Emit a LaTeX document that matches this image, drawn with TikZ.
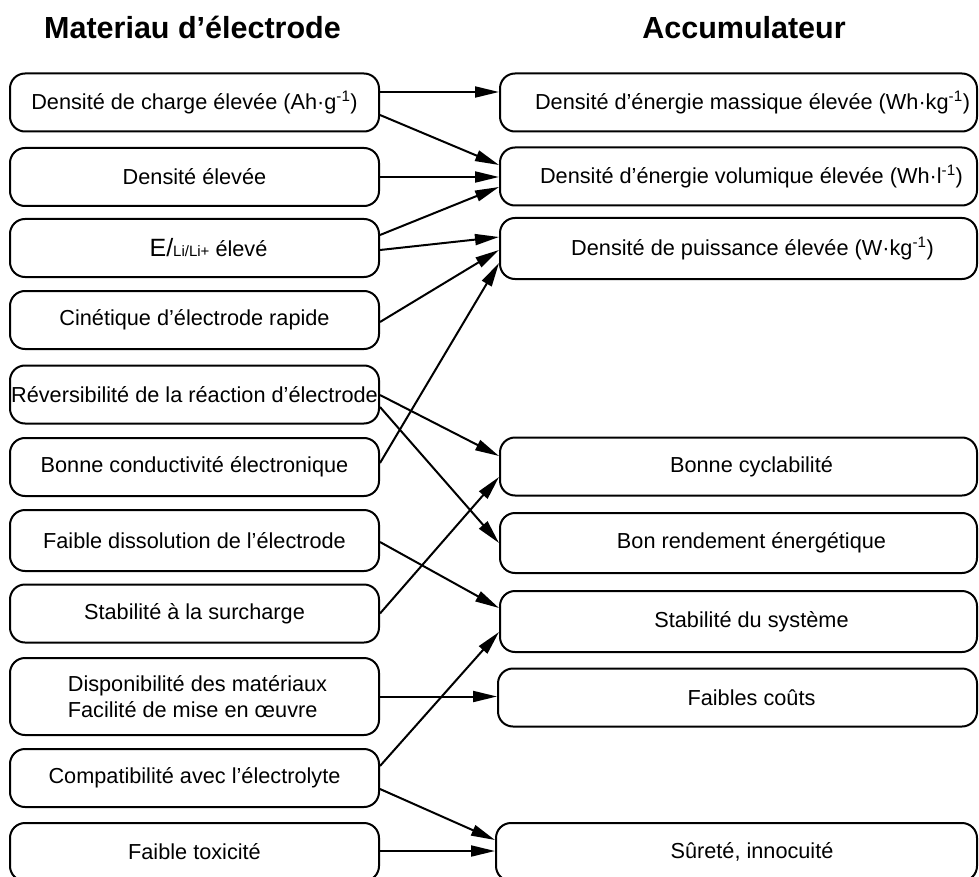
\documentclass[tikz,border=0pt]{standalone}
\usepackage{fontspec}
\setmainfont{Liberation Sans}
\usetikzlibrary{arrows.meta}
\begin{document}
\begin{tikzpicture}[x=1pt,y=-1pt,
  box/.style={draw, line width=2pt, rounded corners=15pt, inner sep=0pt},
  lbox/.style={box, minimum width=369pt, minimum height=58pt},
  rbox/.style={box, minimum width=477pt, minimum height=58pt},
  txt/.style={font=\fontsize{21.7}{26}\selectfont, inner sep=0pt},
  arr/.style={line width=2pt, -{Triangle[length=24pt,width=11pt]}},
  head/.style={font=\fontsize{30.5}{35}\selectfont\bfseries, anchor=base, inner sep=0pt}]
\useasboundingbox (0,0) rectangle (979,877);
\clip (0,0) rectangle (979,877);

% headings
\node[head] (h1) at (192.5,39) {Materiau d’électrode};
\node[head] (h2) at (744,39) {Accumulateur};

% left boxes
\node[lbox] (L1) at (194.5,102.5) {};
\node[lbox] (L2) at (194.5,177) {};
\node[lbox] (L3) at (194.5,248) {};
\node[lbox] (L4) at (194.5,320) {};
\node[lbox] (L5) at (194.5,394.5) {};
\node[lbox] (L6) at (194.5,467) {};
\node[lbox, minimum height=61pt] (L7) at (194.5,540.5) {};
\node[lbox] (L8) at (194.5,613.5) {};
\node[lbox, minimum height=77pt] (L9) at (194.5,696.5) {};
\node[lbox] (L10) at (194.5,778) {};
\node[lbox] (L11) at (194.5,852) {};

\node[txt] (t1) at (L1) {Densité de charge élevée (Ah·g\textsuperscript{-1})};
\node[txt] (t2) at (L2) {Densité élevée};
\node[txt] (t3) at ([xshift=14pt]L3.center) {{\fontsize{25}{30}\selectfont E/}{\fontsize{15}{18}\selectfont Li/Li+} élevé};
\node[txt] (t4) at (L4) {Cinétique d’électrode rapide};
\node[txt] (t5) at (L5) {Réversibilité de la réaction d’électrode};
\node[txt] (t6) at (L6) {Bonne conductivité électronique};
\node[txt] (t7) at (L7) {Faible dissolution de l’électrode};
\node[txt] (t8) at (L8) {Stabilité à la surcharge};
\node[txt, align=left, font=\fontsize{21.7}{26}\selectfont] (t9) at ([xshift=3pt]L9.center) {Disponibilité des matériaux\\Facilité de mise en œuvre};
\node[txt] (t10) at (L10) {Compatibilité avec l’électrolyte};
\node[txt] (t11) at (L11) {Faible toxicité};

% right boxes
\node[rbox] (R1) at (738.5,102.5) {};
\node[rbox] (R2) at (738.5,176.5) {};
\node[rbox, minimum height=61pt] (R3) at (738.5,248.5) {};
\node[rbox] (R4) at (738.5,466.5) {};
\node[rbox, minimum height=60pt] (R5) at (738.5,543) {};
\node[rbox, minimum height=61pt] (R6) at (738.5,621.5) {};
\node[rbox, minimum width=479pt] (R7) at (737.5,697.5) {};
\node[rbox, minimum width=481pt] (R8) at (736.5,852) {};

\node[txt] (u1) at ([xshift=14pt]R1.center) {Densité d’énergie massique élevée (Wh·kg\textsuperscript{-1})};
\node[txt] (u2) at ([xshift=13pt]R2.center) {Densité d’énergie volumique élevée (Wh·l\textsuperscript{-1})};
\node[txt] (u3) at ([xshift=14pt]R3.center) {Densité de puissance élevée (W·kg\textsuperscript{-1})};
\node[txt] (u4) at ([xshift=13pt]R4.center) {Bonne cyclabilité};
\node[txt] (u5) at ([xshift=13pt]R5.center) {Bon rendement énergétique};
\node[txt] (u6) at ([xshift=13pt]R6.center) {Stabilité du système};
\node[txt] (u7) at ([xshift=14pt]R7.center) {Faibles coûts};
\node[txt] (u8) at ([xshift=15.5pt]R8.center) {Sûreté, innocuité};

% arrows
\draw[arr] ([yshift=10.5pt]L1.east) -- ([yshift=10.5pt]R1.west);
\draw[arr] ([yshift=-12.5pt]L1.east) -- ([yshift=11.5pt]R2.west);
\draw[arr] (L2.east) -- (R2.west |- L2.east);
\draw[arr] ([yshift=13pt]L3.east) -- ([yshift=-10.5pt]R2.west);
\draw[arr] ([yshift=-2pt]L3.east) -- ([yshift=11.5pt]R3.west);
\draw[arr] ([yshift=-2pt]L4.east) -- ([yshift=-1.5pt]R3.west);
\draw[arr] ([yshift=4pt]L6.east) -- ([yshift=-14.5pt]R3.west);
\draw[arr] ([yshift=-0.5pt]L5.east) -- ([yshift=10.5pt]R4.west);
\draw[arr] ([yshift=-12.5pt]L5.east) -- (R5.west);
\draw[arr] ([yshift=-1.5pt]L7.east) -- ([yshift=13.5pt]R6.west);
\draw[arr] (L8.east) -- ([yshift=-10.5pt]R4.west);
\draw[arr] (L9.east) -- (R7.west |- L9.east);
\draw[arr] ([yshift=12pt]L10.east) -- ([yshift=-10.5pt]R6.west);
\draw[arr] ([yshift=-11pt]L10.east) -- ([yshift=12pt]R8.west);
\draw[arr] ([yshift=1pt]L11.east) -- ([yshift=1pt]R8.west);
\end{tikzpicture}
\end{document}
